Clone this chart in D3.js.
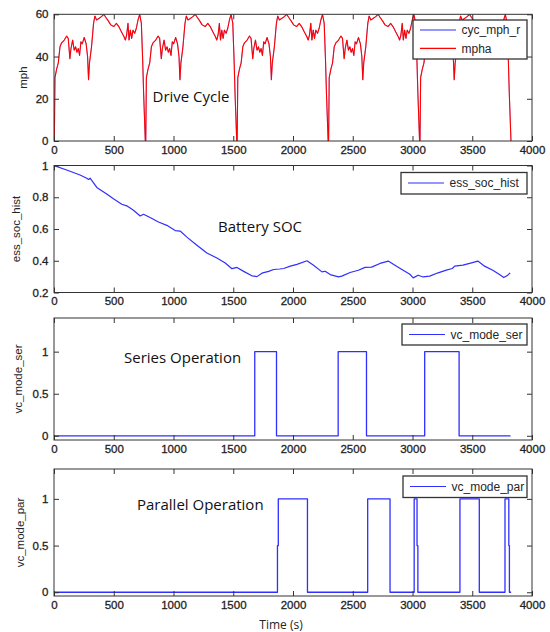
<!DOCTYPE html>
<html><head><meta charset="utf-8">
<script src="https://cdn.jsdelivr.net/npm/d3@7/dist/d3.min.js"></script>
<style>body{margin:0;background:#fff}</style>
</head><body>
<svg id="c" width="550" height="632"></svg>
<script>
// ---------------- data ----------------
const xTicks = [0,500,1000,1500,2000,2500,3000,3500,4000];
const mphTicks = [0,20,40,60];
const socTicks = [0.2,0.4,0.6,0.8,1];
const modeTicks = [0,0.5,1];

// one drive cycle, repeated at these start times
const cycleStarts = [0,765,1530,2295,3060];
const cycleT   = [0,3,8,22,36,50,64,86,106,119,133,142,156,169,181,192,203,214,225,236,253,269,281,289,297,314,331,342,356,375,397,417,433,453,475,500,522,542,564,586,597,608,619,628,639,650,661,675,689,703,717,731,742,750,758,764];
const cycleMph = [0,0,30,34,37,44.6,46.5,47.8,49.7,48.6,39,43.8,47.8,43,44.6,42,43.8,40.5,47,46,49,46,40,29,37,44.6,55.7,59.2,57.3,58,58.9,60,58.6,57,55,54.2,55.7,54.2,51.7,49.4,47.8,50.2,55.7,47.8,52.5,48.6,52.5,51,53.4,57.3,60,55.7,38.3,22.5,9.8,0];

const socT = [0,106,218,274,290,302,358,441,497,567,609,665,721,749,804,874,944,1014,1056,1112,1196,1279,1363,1433,1489,1531,1587,1656,1698,1740,1796,1838,1888,1922,1978,2033,2117,2172,2242,2269,2311,2381,2408,2478,2547,2603,2658,2728,2797,2853,2922,2978,3006,3047,3089,3144,3214,3283,3333,3353,3422,3478,3547,3603,3672,3728,3764,3797,3817];
const socV = [1,0.972,0.94,0.92,0.912,0.92,0.862,0.82,0.79,0.756,0.746,0.718,0.682,0.693,0.672,0.644,0.623,0.59,0.587,0.549,0.498,0.449,0.417,0.386,0.35,0.358,0.333,0.305,0.30,0.322,0.333,0.345,0.348,0.351,0.366,0.377,0.40,0.372,0.33,0.334,0.313,0.298,0.303,0.326,0.34,0.358,0.36,0.383,0.398,0.372,0.34,0.315,0.292,0.309,0.298,0.303,0.324,0.341,0.351,0.366,0.372,0.383,0.398,0.366,0.34,0.313,0.294,0.309,0.324];

const serT = [0,1680,1862,2378,2615,3102,3390,3820];
const serV = [0,1,0,1,0,1,0,0];
const parT = [0,1870,1877,2121,2625,2812,3014,3038,3045,3397,3559,3774,3806,3811,3825];
const parV = [0,0.5,1,0,1,0,1,0.5,0,1,0,1,0.5,0,0];

// ---------------- drawing ----------------
const svg = d3.select("#c");
const X0 = 54, X1 = 532;
const x = d3.scaleLinear().domain([0,4000]).range([X0,X1]);
const BLUE = "#2f2fff", RED = "#ff0000";
const tickFont = "'Liberation Sans', Arial, sans-serif";
const annFont = "'Open Sans', 'Noto Sans', sans-serif";

function panel(cfg){
  const y = d3.scaleLinear().domain(cfg.ydom).range([cfg.bottom, cfg.top]);
  const g = svg.append("g");
  const clipId = "clip" + cfg.id;
  svg.append("clipPath").attr("id", clipId).append("rect")
    .attr("x", X0).attr("y", cfg.top).attr("width", X1-X0).attr("height", cfg.bottom-cfg.top);
  const plot = g.append("g").attr("clip-path", `url(#${clipId})`);
  cfg.series.forEach(s => {
    const line = d3.line().x(d => x(d[0])).y(d => y(d[1]));
    if (s.step) line.curve(d3.curveStepAfter);
    plot.append("path").datum(s.data).attr("fill","none").attr("stroke", s.color)
      .attr("stroke-width", s.w).attr("stroke-linejoin","round").attr("d", line);
  });
  const styleAxis = sel => {
    sel.select(".domain").remove();
    sel.selectAll(".tick line").attr("stroke","#333").attr("stroke-width",1);
    sel.selectAll(".tick text").attr("fill","#1e1e1e").attr("stroke","#1e1e1e").attr("stroke-width",0.3)
      .style("font-family", tickFont).style("font-size","11.5px");
  };
  g.append("g").attr("transform",`translate(0,${cfg.bottom})`)
    .call(d3.axisBottom(x).tickValues(xTicks).tickFormat(d3.format("d")).tickSizeInner(-5).tickSizeOuter(0).tickPadding(4.5)).call(styleAxis);
  g.append("g").attr("transform",`translate(0,${cfg.top})`)
    .call(d3.axisTop(x).tickValues(xTicks).tickFormat("").tickSizeInner(-5).tickSizeOuter(0)).call(styleAxis);
  g.append("g").attr("transform",`translate(${X0},0)`)
    .call(d3.axisLeft(y).tickValues(cfg.yticks).tickFormat(d => String(d)).tickSizeInner(-5).tickSizeOuter(0).tickPadding(5.5)).call(styleAxis);
  g.append("g").attr("transform",`translate(${X1},0)`)
    .call(d3.axisRight(y).tickValues(cfg.yticks).tickFormat("").tickSizeInner(-5).tickSizeOuter(0)).call(styleAxis);
  g.append("rect").attr("x",X0).attr("y",cfg.top).attr("width",X1-X0).attr("height",cfg.bottom-cfg.top)
    .attr("fill","none").attr("stroke","#333").attr("stroke-width",1);
  g.append("text").attr("transform",`translate(${cfg.ylx},${(cfg.top+cfg.bottom)/2}) rotate(-90)`)
    .attr("text-anchor","middle").attr("dy","0.35em").attr("fill","#262626")
    .style("font-family",tickFont).style("font-size","11.5px").text(cfg.ylabel);
  g.append("text").attr("x",cfg.ann.x).attr("y",cfg.ann.y).attr("dy","0.35em").attr("fill","#111")
    .style("font-family",annFont).style("font-size","15px").text(cfg.ann.text);
  const L = cfg.legend;
  g.append("rect").attr("x",L.x).attr("y",L.y).attr("width",L.w).attr("height",L.h)
    .attr("fill","#fff").attr("stroke","#333").attr("stroke-width",1.3);
  L.items.forEach((it,i) => {
    const yy = L.y + L.first + i*L.step;
    g.append("line").attr("x1",L.x+7).attr("x2",L.x+43).attr("y1",yy).attr("y2",yy)
      .attr("stroke",it.color).attr("stroke-width",1.2);
    g.append("text").attr("x",L.x+48.5).attr("y",yy).attr("dy","0.35em").attr("fill","#262626")
      .style("font-family",tickFont).style("font-size","12px").text(it.label);
  });
}

const drive = [];
cycleStarts.forEach(s => cycleT.forEach((t,i) => drive.push([s+t, cycleMph[i]])));
drive.push([3825,0]);
const soc = socT.map((t,i) => [t, socV[i]]);
const ser = serT.map((t,i) => [t, serV[i]]);
const par = parT.map((t,i) => [t, parV[i]]);

panel({id:1, top:14.3, bottom:141, ydom:[0,60], yticks:mphTicks, ylabel:"mph", ylx:23,
  series:[{data:drive,color:BLUE,w:0.5},{data:drive,color:RED,w:1.1}],
  ann:{x:152.5,y:96.5,text:"Drive Cycle"},
  legend:{x:413,y:20,w:114,h:39,first:10,step:18.3,items:[{label:"cyc_mph_r",color:BLUE},{label:"mpha",color:RED}]}});

panel({id:2, top:165.5, bottom:292.5, ydom:[0.2,1], yticks:socTicks, ylabel:"ess_soc_hist", ylx:16,
  series:[{data:soc,color:BLUE,w:1.2}],
  ann:{x:218,y:226.5,text:"Battery SOC"},
  legend:{x:401,y:172.5,w:126,h:21.5,first:10.5,step:0,items:[{label:"ess_soc_hist",color:BLUE}]}});

panel({id:3, top:318, bottom:440, ydom:[-0.05,1.4], yticks:modeTicks, ylabel:"vc_mode_ser", ylx:17.5,
  series:[{data:ser,color:BLUE,w:1.3,step:true}],
  ann:{x:124,y:358,text:"Series Operation"},
  legend:{x:402,y:324,w:125,h:21,first:10.5,step:0,items:[{label:"vc_mode_ser",color:BLUE}]}});

panel({id:4, top:469, bottom:596, ydom:[-0.04,1.32], yticks:modeTicks, ylabel:"vc_mode_par", ylx:20,
  series:[{data:par,color:BLUE,w:1.3,step:true}],
  ann:{x:137,y:505,text:"Parallel Operation"},
  legend:{x:403,y:476,w:124,h:21.5,first:10.5,step:0,items:[{label:"vc_mode_par",color:BLUE}]}});

svg.append("text").attr("x",281).attr("y",625).attr("dy","0.35em").attr("text-anchor","middle")
  .attr("fill","#262626").style("font-family",annFont).style("font-size","12px").text("Time (s)");
</script>
</body></html>
